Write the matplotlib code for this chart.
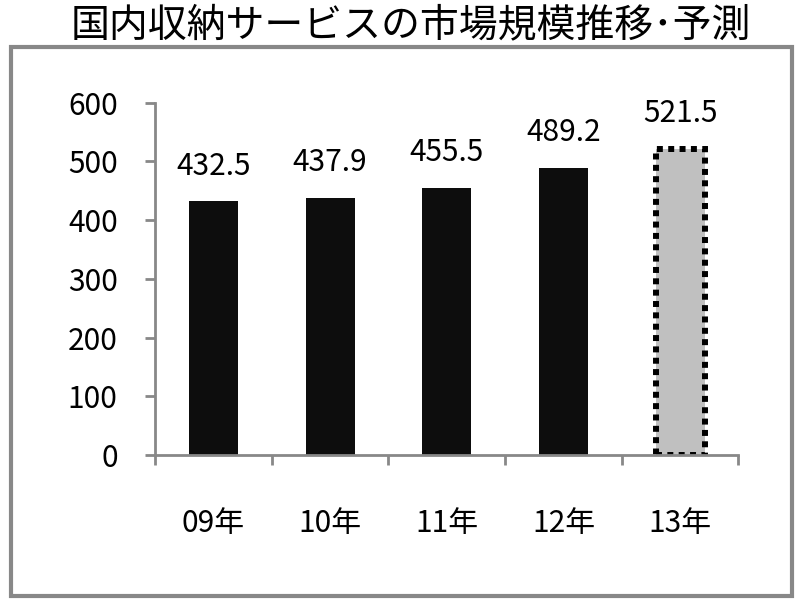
import matplotlib
matplotlib.use("Agg")
import matplotlib.pyplot as plt
from matplotlib.patches import Rectangle

plt.rcParams['font.family'] = ['Noto Sans CJK JP', 'DejaVu Sans']

title = "国内収納サービスの市場規模推移･予測"
years = ["09年", "10年", "11年", "12年", "13年"]
values = [432.5, 437.9, 455.5, 489.2, 521.5]
y_ticks = [0, 100, 200, 300, 400, 500, 600]

axis_gray = "#888888"
fs = 21.5

fig = plt.figure(figsize=(8, 6.01), dpi=100, facecolor="white")
ax = fig.add_axes([0.194, 0.243, 0.729, 0.586])

x = list(range(len(years)))
ax.bar(x[:-1], values[:-1], width=0.42, color="#0d0d0d", zorder=2)
last = ax.bar(x[-1], values[-1], width=0.42, color="#c0c0c0", edgecolor="black",
              linewidth=4.3, linestyle=(0, (1, 0.9)), zorder=2)
for r in last:
    r.set_capstyle("butt")
    r.set_joinstyle("miter")

for xi, v in zip(x, values):
    ax.annotate(f"{v:.1f}", (xi, v), xytext=(0, 14), textcoords="offset points",
                ha="center", va="bottom", fontsize=fs)

ax.set_xlim(-0.5, len(years) - 0.5)
ax.set_ylim(0, 600)
ax.set_yticks(y_ticks)
ax.set_yticklabels([str(t) for t in y_ticks], fontsize=fs)
ax.set_xticks(x)
ax.set_xticklabels(years, fontsize=fs)
ax.set_xticks([i - 0.5 for i in range(len(years) + 1)], minor=True)
ax.tick_params(axis="x", which="major", length=0, pad=38)
ax.tick_params(axis="x", which="minor", length=7, width=2, color=axis_gray, direction="out")
ax.tick_params(axis="y", length=7, width=2, color=axis_gray, direction="out", pad=20)

for s in ["top", "right"]:
    ax.spines[s].set_visible(False)
for s in ["left", "bottom"]:
    ax.spines[s].set_color(axis_gray)
    ax.spines[s].set_linewidth(2)

fig.patches.append(Rectangle((0.014, 0.009), 0.976, 0.912, transform=fig.transFigure,
                             fill=False, edgecolor=axis_gray, linewidth=3))
fig.text(0.514, 0.958, title, ha="center", va="center", fontsize=28)

fig.savefig("out.png", dpi=100, facecolor="white")
